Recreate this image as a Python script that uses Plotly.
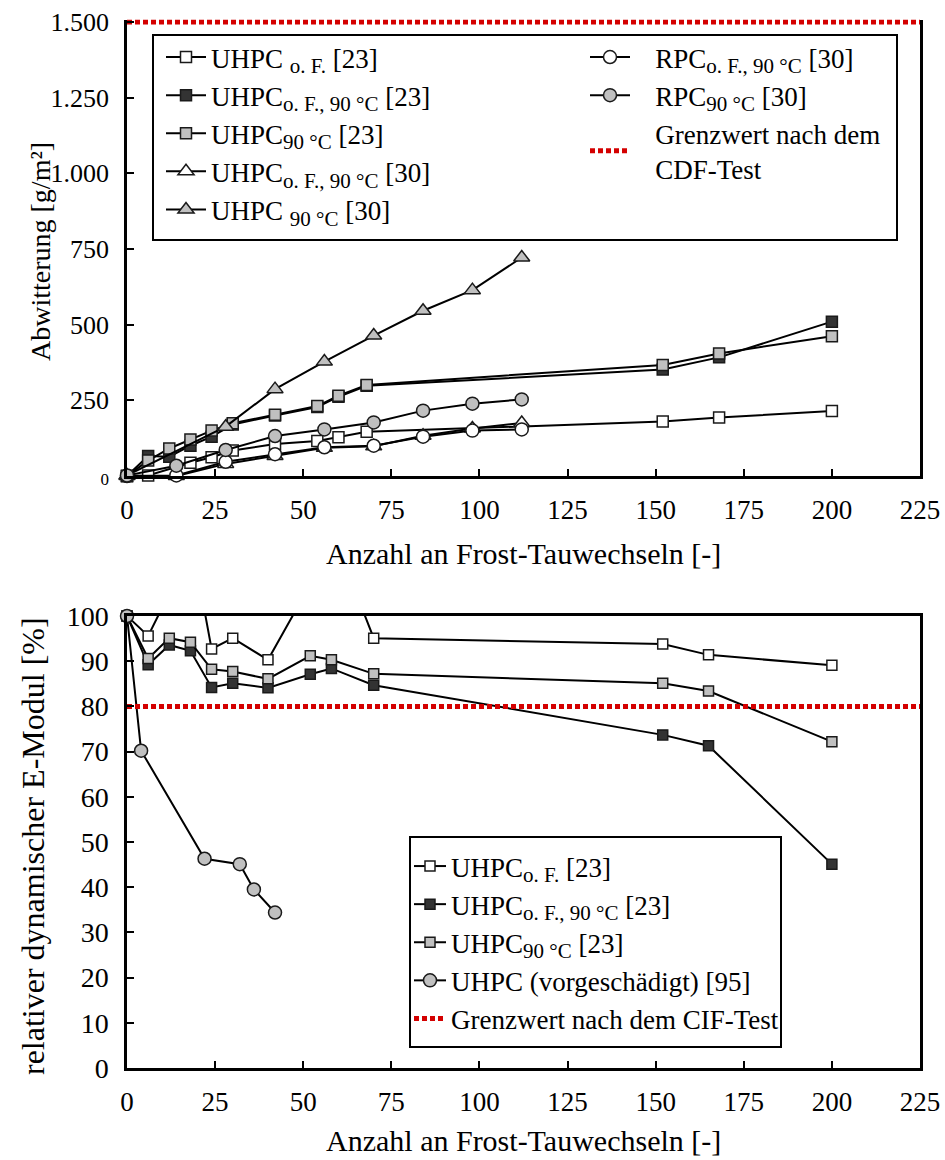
import plotly.graph_objects as go

# ---------------- top chart: Abwitterung [g/m²] ----------------
x_23 = [0, 6, 12, 18, 24, 30, 42, 54, 60, 68, 152, 168, 200]
x_23_of = [0, 6, 18, 24, 30, 42, 54, 60, 68, 152, 168, 200]
uhpc_of_23 = [0, 2, 44, 62, 84, 106, 116, 128, 146, 180, 193, 215]
uhpc_of90_23 = [0, 66, 64, 100, 130, 170, 200, 228, 262, 298, 352, 392, 510]
uhpc_90_23 = [0, 51, 91, 121, 150, 174, 202, 231, 265, 301, 367, 405, 462]
x_30 = [0, 14, 28, 42, 56, 70, 84, 98, 112]
x_30_u90 = [0, 28, 42, 56, 70, 84, 98, 112]
uhpc_of90_30 = [0, 0, 40, 66, 93, 98, 133, 157, 175]
uhpc_90_30 = [2, 163, 287, 378, 464, 546, 614, 722]
rpc_of90_30 = [0, 2, 47, 72, 95, 100, 130, 150, 154]
rpc_90_30 = [2, 34, 86, 132, 154, 177, 216, 239, 253]
cdf_limit = 1500
top_yticks = [0, 250, 500, 750, 1000, 1250, 1500]
top_yticktext = ['<span style="font-size:17px">0</span>', "250", "500", "750",
                 "1.000", "1.250", "1.500"]

# ---------------- bottom chart: relativer dyn. E-Modul [%] ----------------
x_e = [0, 6, 12, 18, 24, 30, 40, 52, 58, 70, 152, 165, 200]
e_of_23 = [100, 95.6, 105, 118, 92.7, 95.1, 90.3, 107, 119, 95.1, 93.8, 91.4, 89.1]
e_of90_23 = [100, 89.2, 93.6, 92.3, 84.2, 85.1, 84.1, 87.1, 88.4, 84.7, 73.7, 71.3, 45.1]
e_90_23 = [100, 90.6, 95.1, 94.2, 88.2, 87.7, 86.1, 91.2, 90.3, 87.2, 85.1, 83.4, 72.2]
x_v = [0, 4, 22, 32, 36, 42]
e_vorg_95 = [100, 70.2, 46.3, 45.1, 39.5, 34.4]
cif_limit = 80
x_ticks = [0, 25, 50, 75, 100, 125, 150, 175, 200, 225]
bot_yticks = [0, 10, 20, 30, 40, 50, 60, 70, 80, 90, 100]

FONT = "Liberation Serif"
WHITE, DARK, GRAY = "#ffffff", "#333333", "#c0c0c0"
RED = "#d40000"
EDGE = "#1a1a1a"
GAP = "\u00a0\u00a0\u00a0"


def sub(t):
    return '<sub><span style="font-size:21px">' + t + '</span></sub>'


fig = go.Figure()


def series(x, y, sym, fill, name, xa, ya, legend, size=10, clip=False):
    fig.add_trace(go.Scatter(
        x=x, y=y, mode="lines+markers", name=name, xaxis=xa, yaxis=ya,
        legend=legend, cliponaxis=clip,
        line=dict(color="black", width=2),
        marker=dict(symbol=sym, size=size, color=fill,
                    line=dict(color=EDGE, width=1.5))))


# top chart traces
series(x_23_of, uhpc_of_23, "square", WHITE, "UHPC " + sub("o. F.") + " [23]", "x", "y", "legend", size=11)
series(x_23, uhpc_of90_23, "square", DARK, "UHPC" + sub("o. F., 90 °C") + " [23]", "x", "y", "legend", size=11)
series(x_23, uhpc_90_23, "square", GRAY, "UHPC" + sub("90 °C") + " [23]", "x", "y", "legend", size=11)
series(x_30, uhpc_of90_30, "triangle-up", WHITE, "UHPC" + sub("o. F., 90 °C") + " [30]", "x", "y", "legend", size=14)
series(x_30_u90, uhpc_90_30, "triangle-up", GRAY, "UHPC " + sub("90 °C") + " [30]", "x", "y", "legend", size=14)
series(x_30, rpc_of90_30, "circle", WHITE, GAP + "RPC" + sub("o. F., 90 °C") + " [30]", "x", "y", "legend2", size=13)
series(x_30, rpc_90_30, "circle", GRAY, GAP + "RPC" + sub("90 °C") + " [30]", "x", "y", "legend2", size=13)
fig.add_trace(go.Scatter(
    x=[0, 225], y=[cdf_limit, cdf_limit], mode="lines", xaxis="x", yaxis="y",
    name=GAP + "Grenzwert nach dem<br>" + GAP + "CDF-Test", legend="legend2",
    line=dict(color=RED, width=5, dash="5px,3px")))

# bottom chart traces
fig.add_trace(go.Scatter(
    x=[0, 225], y=[cif_limit, cif_limit], mode="lines", xaxis="x2", yaxis="y2",
    name="Grenzwert nach dem CIF-Test", legend="legend3", showlegend=False,
    line=dict(color=RED, width=5, dash="5px,3px")))
series(x_e, e_of_23, "square", WHITE, "UHPC" + sub("o. F.") + " [23]", "x2", "y2", "legend3", clip=True)
series(x_e, e_of90_23, "square", DARK, "UHPC" + sub("o. F., 90 °C") + " [23]", "x2", "y2", "legend3")
series(x_e, e_90_23, "square", GRAY, "UHPC" + sub("90 °C") + " [23]", "x2", "y2", "legend3")
series(x_v, e_vorg_95, "circle", GRAY, "UHPC (vorgeschädigt) [95]", "x2", "y2", "legend3", size=13)
fig.add_trace(go.Scatter(
    x=[0, 225], y=[cif_limit, cif_limit], mode="lines", xaxis="x2", yaxis="y2",
    name="Grenzwert nach dem CIF-Test", legend="legend3",
    line=dict(color=RED, width=5, dash="5px,3px")))

W, H = 945, 1160
px = lambda v: v / W
py = lambda v: 1 - v / H

xdom = [px(127), px(920)]
axis_common = dict(
    showgrid=False, zeroline=False, showline=True, linecolor="black", linewidth=2.5,
    ticks="inside", ticklen=7, tickwidth=2, tickcolor="black", automargin=False)
tf_top = dict(family=FONT, size=26, color="black")
tf_x = dict(family=FONT, size=27, color="black")
tf_bot = dict(family=FONT, size=28, color="black")

leg_font = dict(family=FONT, size=27, color="black")

fig.update_layout(
    template="none",
    width=W, height=H, margin=dict(l=0, r=0, t=0, b=0, pad=0), autosize=False,
    paper_bgcolor="white", plot_bgcolor="white",
    font=dict(family=FONT, color="black"),
    xaxis=dict(domain=xdom, range=[0, 225], tickvals=x_ticks, anchor="y", mirror=False,
               ticklabelstandoff=8, tickfont=tf_x, **axis_common),
    yaxis=dict(domain=[py(476), py(476 - 1508 * 454 / 1500)], range=[0, 1508],
               tickvals=top_yticks, ticktext=top_yticktext, anchor="x", mirror=True,
               ticklabelstandoff=10, tickfont=tf_top, **axis_common),
    xaxis2=dict(domain=xdom, range=[0, 225], tickvals=x_ticks, anchor="y2", mirror=True,
                ticklabelstandoff=8, tickfont=tf_x, **axis_common),
    yaxis2=dict(domain=[py(1068), py(616)], range=[0, 100], tickvals=bot_yticks,
                anchor="x2", mirror=True, ticklabelstandoff=10, tickfont=tf_bot,
                **axis_common),
    legend=dict(x=px(161), y=py(33), xanchor="left", yanchor="top",
                bgcolor="rgba(0,0,0,0)", borderwidth=0, itemwidth=40,
                font=leg_font, tracegroupgap=0),
    legend2=dict(x=px(585), y=py(33), xanchor="left", yanchor="top",
                 bgcolor="rgba(0,0,0,0)", borderwidth=0, itemwidth=40,
                 font=leg_font, tracegroupgap=0),
    legend3=dict(x=px(409), y=py(842), xanchor="left", yanchor="top",
                 bgcolor="rgba(0,0,0,0)", borderwidth=0, itemwidth=32,
                 font=leg_font, tracegroupgap=0),
    shapes=[
        dict(type="rect", xref="paper", yref="paper", x0=px(153), x1=px(897),
             y0=py(240), y1=py(35), line=dict(color="black", width=2),
             fillcolor="white", layer="above"),
        dict(type="rect", xref="paper", yref="paper", x0=px(410), x1=px(781),
             y0=py(1047), y1=py(837), line=dict(color="black", width=2),
             fillcolor="white", layer="above"),
    ],
    annotations=[
        dict(text="Abwitterung [g/m²]", x=px(40), y=py(252), xref="paper", yref="paper",
             xanchor="center", yanchor="middle",
             textangle=-90, showarrow=False, font=dict(family=FONT, size=28)),
        dict(text="Anzahl an Frost-Tauwechseln [-]", x=px(523), y=py(553), xref="paper",
             yref="paper", xanchor="center", yanchor="middle",
             showarrow=False, font=dict(family=FONT, size=30)),
        dict(text="relativer dynamischer E-Modul [%]", x=px(33), y=py(846), xref="paper",
             yref="paper", xanchor="center", yanchor="middle",
             textangle=-90, showarrow=False, font=dict(family=FONT, size=32)),
        dict(text="Anzahl an Frost-Tauwechseln [-]", x=px(523), y=py(1140), xref="paper",
             yref="paper", xanchor="center", yanchor="middle",
             showarrow=False, font=dict(family=FONT, size=30)),
    ],
)

fig.write_html("out.html")
